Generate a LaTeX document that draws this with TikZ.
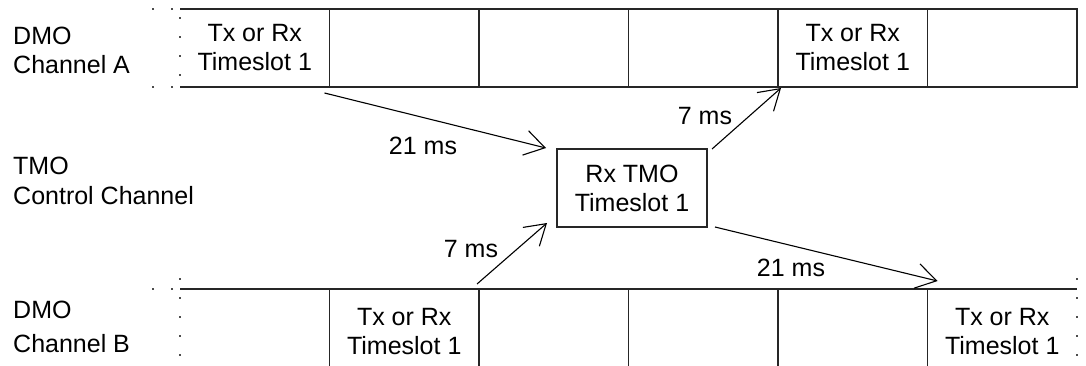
\documentclass[tikz,border=0pt]{standalone}
\usepackage{fontspec}
\setmainfont{Liberation Sans}
\usetikzlibrary{arrows.meta}
\begin{document}
\begin{tikzpicture}[x=1pt,y=-1pt,
  every node/.style={font=\fontsize{25}{29}\selectfont},
  slot/.style={minimum width=149.5pt, minimum height=78pt, inner sep=0pt, outer sep=0pt, align=center},
  framed/.style={slot, draw=black!85, line width=1.4pt},
  edgeline/.style={draw=black!85, line width=1.4pt},
  dotedge/.style={draw=black!70, line width=1.4pt, dash pattern=on 2pt off 17pt},
  hop/.style={draw=black, line width=1.1pt, -{Straight Barb[length=20pt,width=25pt]}},
  lbl/.style={inner sep=0pt, align=left, anchor=north west},
  delay/.style={inner sep=0pt}]
  \useasboundingbox (0,0) rectangle (1086,365);
  \clip (0,0) rectangle (1086,365);

  % DMO channel A frame
  \node[slot]   (a1) at (254.75,48) {Tx or Rx\\Timeslot 1};
  \node[framed] (a2) at (404.25,48) {};
  \node[framed] (a3) at (553.75,48) {};
  \node[framed] (a4) at (703.25,48) {};
  \node[framed] (a5) at (852.75,48) {Tx or Rx\\Timeslot 1};
  \node[framed] (a6) at (1002.25,48) {};
  \draw[edgeline] (a1.north west) -- (a1.north east) -- (a1.south east) -- (a1.south west);
  \draw[dotedge] ([yshift=11pt]a1.north west) -- (a1.south west);
  \draw[dotedge] ([xshift=-7pt]a1.north west) -- ++(-25,0);
  \draw[dotedge] ([xshift=-7pt]a1.south west) -- ++(-25,0);

  % TMO control channel slot
  \node[framed, minimum width=150pt] (tmo) at (632,188) {Rx TMO\\Timeslot 1};

  % DMO channel B frame
  \node[slot, minimum height=86pt] (b1) at (254.75,332) {};
  \node[framed, minimum height=86pt] (b2) at (404.25,332) {Tx or Rx\\Timeslot 1};
  \node[framed, minimum height=86pt] (b3) at (553.75,332) {};
  \node[framed, minimum height=86pt] (b4) at (703.25,332) {};
  \node[framed, minimum height=86pt] (b5) at (852.75,332) {};
  \node[slot, minimum height=86pt]   (b6) at (1002.25,332) {Tx or Rx\\Timeslot 1};
  \draw[edgeline] (b1.north west) -- (b6.north east);
  \draw[edgeline] (b1.south west) -- (b6.south east);
  \draw[dotedge] ([yshift=11pt]b1.north west) -- (b1.south west);
  \draw[dotedge] ([yshift=11pt]b6.north east) -- (b6.south east);
  \draw[dotedge] ([xshift=-7pt]b1.north west) -- ++(-25,0);

  % channel labels
  \node[lbl] (chA) at (13,27) {DMO\\Channel A};
  \node[lbl] (tmoch) at (13,157) {TMO\\[1pt]Control Channel};
  \node[lbl] (chB) at (13,301) {DMO\\[5pt]Channel B};

  % timing hops
  \draw[hop] ([shift={(-5,6)}]a1.south east) -- ([shift={(-11,-1)}]tmo.north west);
  \draw[hop] ([shift={(5,0)}]tmo.north east) -- ([shift={(3,1)}]a5.south west);
  \draw[hop] ([shift={(-2,-5)}]b2.north east) -- ([shift={(-10,-4)}]tmo.south west);
  \draw[hop] ([shift={(8,0)}]tmo.south east) -- ([shift={(10,-8)}]b6.north west);

  \node[delay] (d1) at (423,146) {21 ms};
  \node[delay] (d2) at (705,116) {7 ms};
  \node[delay] (d3) at (471,249) {7 ms};
  \node[delay] (d4) at (791,268) {21 ms};
\end{tikzpicture}
\end{document}
